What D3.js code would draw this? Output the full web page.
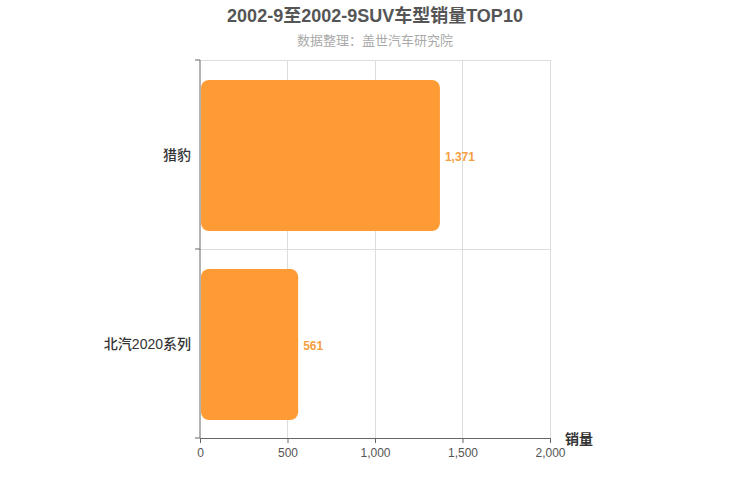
<!DOCTYPE html>
<html><head><meta charset="utf-8">
<script src="https://cdn.jsdelivr.net/npm/d3@7"></script>
<style>body{margin:0;background:#fff;}svg{font-family:"Liberation Sans",Arial,"Noto Sans CJK SC",sans-serif;}</style>
</head><body><svg id="c" width="750" height="500"></svg>
<script>
const categories = ["猎豹", "北汽2020系列"];
const values = [1371, 561];
const xTicks = [0, 500, 1000, 1500, 2000];
const titleText = "2002-9至2002-9SUV车型销量TOP10";
const subtitleText = "数据整理：盖世汽车研究院";
const axisName = "销量";

const svg = d3.select("#c");
const m = {l:200, r:550, t:60, b:438};
const x = d3.scaleLinear().domain([0, 2000]).range([m.l, m.r]);
const y = d3.scaleBand().domain(categories).range([m.t, m.b]).paddingInner(0.2).paddingOuter(0.1);

// title
svg.append("text").attr("x",375).attr("y",22).attr("text-anchor","middle")
  .attr("font-size",18).attr("font-weight","bold").attr("fill","#555").text(titleText);
svg.append("text").attr("x",375).attr("y",45).attr("text-anchor","middle")
  .attr("font-size",13).attr("fill","#aaa").text(subtitleText);

// grid
svg.append("g").selectAll("line").data(xTicks.slice(1)).join("line")
  .attr("x1",d=>x(d)).attr("x2",d=>x(d)).attr("y1",m.t).attr("y2",m.b)
  .attr("stroke","#ddd").attr("stroke-width",1).attr("shape-rendering","crispEdges");
const bandEdges = [m.t, m.t + (m.b-m.t)/2];
svg.append("g").selectAll("line").data(bandEdges).join("line")
  .attr("x1",m.l).attr("x2",m.r).attr("y1",d=>d).attr("y2",d=>d)
  .attr("stroke","#ddd").attr("stroke-width",1).attr("shape-rendering","crispEdges");

// bars
svg.append("g").selectAll("path").data(categories).join("path")
  .attr("d",(c,i)=>{
    const x0 = x(0)+1, x1 = x(values[i]), y0 = y(c)+1, h = y.bandwidth(), r = 8;
    const p = d3.path();
    p.moveTo(x0+r,y0); p.lineTo(x1-r,y0); p.arcTo(x1,y0,x1,y0+r,r);
    p.lineTo(x1,y0+h-r); p.arcTo(x1,y0+h,x1-r,y0+h,r);
    p.lineTo(x0+r,y0+h); p.arcTo(x0,y0+h,x0,y0+h-r,r);
    p.lineTo(x0,y0+r); p.arcTo(x0,y0,x0+r,y0,r); p.closePath();
    return p.toString();
  })
  .attr("fill","#ff9b35");

// value labels
svg.append("g").selectAll("text").data(categories).join("text")
  .attr("x",(c,i)=>x(values[i])+5).attr("y",c=>y(c)+y.bandwidth()/2+2)
  .attr("dy","0.35em").attr("font-size",12).attr("font-weight","bold").attr("fill","#f5a040")
  .text((c,i)=>d3.format(",")(values[i]));

// axes
const xAxis = d3.axisBottom(x).tickValues(xTicks).tickFormat(d3.format(",")).tickSize(5).tickSizeOuter(0);
const gx = svg.append("g").attr("transform",`translate(0,${m.b})`).call(xAxis);
gx.select(".domain").attr("stroke","#666");
gx.selectAll(".tick line").attr("stroke","#666");
gx.selectAll(".tick text").attr("fill","#555").attr("font-size",12).attr("dy","0.9em")
  .attr("font-family","Liberation Sans, Arial, sans-serif");

const gy = svg.append("g").attr("transform",`translate(${m.l},0)`);
gy.append("line").attr("x1",0).attr("x2",0).attr("y1",m.t).attr("y2",m.b).attr("stroke","#666");
const yTickPos = [m.t, m.t+(m.b-m.t)/2, m.b];
gy.selectAll("line.t").data(yTickPos).join("line").attr("class","t")
  .attr("x1",-5).attr("x2",0).attr("y1",d=>d).attr("y2",d=>d).attr("stroke","#666");
gy.selectAll("text").data(categories).join("text")
  .attr("x",-9).attr("y",c=>y(c)+y.bandwidth()/2+1).attr("dy","0.35em")
  .attr("text-anchor","end").attr("font-size",14).attr("fill","#333").attr("font-weight","500")
  .text(c=>c);

svg.append("text").attr("x",565).attr("y",444).attr("font-size",14).attr("font-weight","bold")
  .attr("fill","#333").text(axisName);
</script></body></html>
